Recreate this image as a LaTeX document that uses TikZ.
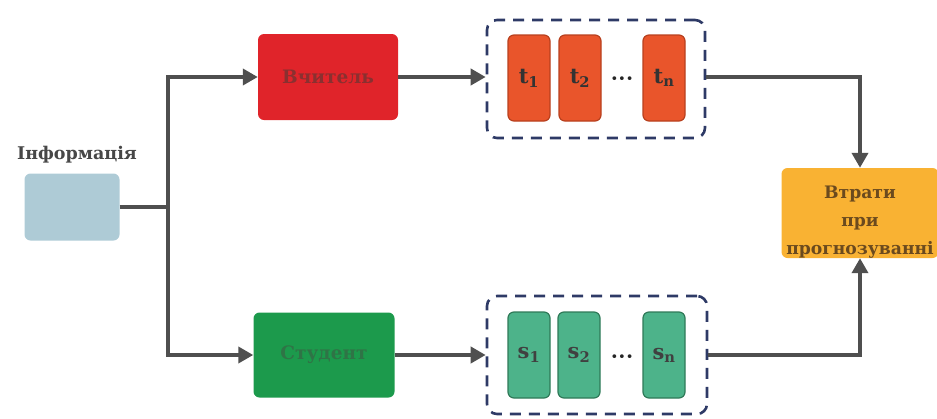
\documentclass[tikz,border=0pt]{standalone}
\usepackage{fontspec}
\setmainfont{DejaVu Serif}
\newfontfamily\dotfont{DejaVu Sans}
\usetikzlibrary{arrows.meta}
\definecolor{infofill}{HTML}{AECBD6}
\definecolor{teachfill}{HTML}{E0242A}
\definecolor{teachtext}{HTML}{8A3030}
\definecolor{studfill}{HTML}{1C9A4C}
\definecolor{studtext}{HTML}{2F7446}
\definecolor{tfill}{HTML}{E9552B}
\definecolor{tdraw}{HTML}{B8401E}
\definecolor{sfill}{HTML}{4DB38A}
\definecolor{sdraw}{HTML}{2F7A58}
\definecolor{lossfill}{HTML}{F9B233}
\definecolor{losstext}{HTML}{6B4A1E}
\definecolor{groupline}{HTML}{2E3A66}
\definecolor{wire}{HTML}{4F4F4F}
\tikzset{
  block/.style={rounded corners=6pt, font=\bfseries\fontsize{18.5}{20}\selectfont, align=center, inner sep=0pt},
  cell/.style={rounded corners=6pt, minimum width=42pt, minimum height=86pt, line width=1.2pt, inner sep=0pt, font=\bfseries\fontsize{21}{23}\selectfont},
  tcell/.style={cell, fill=tfill, draw=tdraw, text=black!80},
  scell/.style={cell, fill=sfill, draw=sdraw, text=black!75},
  group/.style={draw=groupline, line width=2.6pt, dash pattern=on 11pt off 8pt, rounded corners=10pt, inner sep=0pt},
  wireline/.style={draw=wire, line width=4pt},
  arr/.style={wireline, -{Triangle[length=15pt,width=16pt]}},
  dotsym/.style={font=\dotfont\fontsize{13}{13}\selectfont, inner sep=0pt, text=black!85}
}
\begin{document}
\begin{tikzpicture}[x=1pt, y=-1pt]
\useasboundingbox (0,0) rectangle (937,418);

% input block and its caption
\node[block, fill=infofill, minimum width=95pt, minimum height=67pt] (info) at (72,207) {};
\node[font=\bfseries\fontsize{17.5}{20}\selectfont, text=black!72, inner sep=0pt] (infolabel) at (77,155) {Інформація};

% teacher and student models
\node[block, fill=teachfill, text=teachtext, minimum width=140pt, minimum height=86pt] (teacher) at (328,77) {Вчитель};
\node[block, fill=studfill, text=studtext, minimum width=141pt, minimum height=85pt] (student) at (324,355) {Студент};

% teacher outputs
\node[group, minimum width=218pt, minimum height=118pt] (tgroup) at (596,79) {};
\node[tcell] (t1) at (529,78) {t\textsubscript{1}};
\node[tcell] (t2) at (580,78) {t\textsubscript{2}};
\node[dotsym] (tdots) at (622,80) {•••};
\node[tcell] (tn) at (664,78) {t\textsubscript{n}};

% student outputs
\node[group, minimum width=220pt, minimum height=118pt] (sgroup) at (597,355) {};
\node[scell] (s1) at (529,355) {s\textsubscript{1}};
\node[scell] (s2) at (579,355) {s\textsubscript{2}};
\node[dotsym] (sdots) at (622,358) {•••};
\node[scell] (sn) at (664,355) {s\textsubscript{n}};

% loss block (text block lowered a little inside the box)
\node[block, fill=lossfill, text=losstext, minimum width=157pt, minimum height=90pt, font=\bfseries\fontsize{17.2}{28}\selectfont] (loss) at (860,213) {\raisebox{-12pt}[0pt][0pt]{\begin{tabular}{@{}c@{}}Втрати\\при\\прогнозуванні\end{tabular}}};

% connectors
\draw[wireline] (info.east) -- ++(48,0) coordinate (split);
\draw[arr] (split) |- (teacher.west);
\draw[arr] (split) |- (student.west);
\draw[arr] (teacher.east) -- (tgroup.west |- teacher.east);
\draw[arr] (student.east) -- (sgroup.west |- student.east);
\draw[arr] (tgroup.east |- teacher.east) -| (loss.north);
\draw[arr] (sgroup.east) -| (loss.south);
\end{tikzpicture}
\end{document}
